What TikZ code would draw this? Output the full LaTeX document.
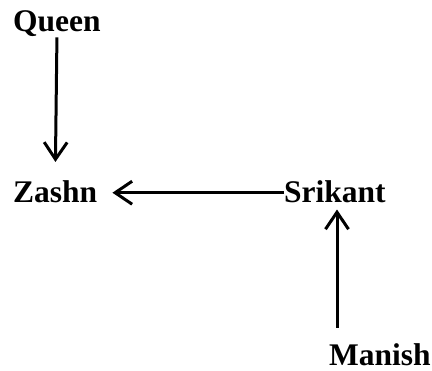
\documentclass[tikz,border=0pt]{standalone}
\usepackage{fontspec}
\setmainfont{Liberation Serif}
\usetikzlibrary{arrows.meta}
\begin{document}
\begin{tikzpicture}[x=1bp,y=1bp,
  lbl/.style={inner sep=0pt,anchor=base west,font=\fontsize{31.5bp}{36bp}\selectfont\bfseries},
  arr/.style={line width=3bp,-{Straight Barb[length=17bp,width=23bp,line width=3bp]}}]
\useasboundingbox (0,0) rectangle (432,371);
\node[lbl] (q) at (13,340) {Queen};
\node[lbl] (z) at (13,169) {Zashn};
\node[lbl] (s) at (284,169) {Srikant};
\node[lbl] (m) at (329,6) {Manish};
\draw[arr,shorten <=1bp,shorten >=18bp] (q.south) -- (z.north);
\draw[arr,shorten >=15bp] ([yshift=-1.5bp]s.west) -- ([yshift=-1.5bp]z.east);
\draw[arr,shorten <=15bp,shorten >=7bp] ([xshift=8bp]m.north west) -- ([xshift=8bp]m.north west |- s.south);
\end{tikzpicture}
\end{document}
